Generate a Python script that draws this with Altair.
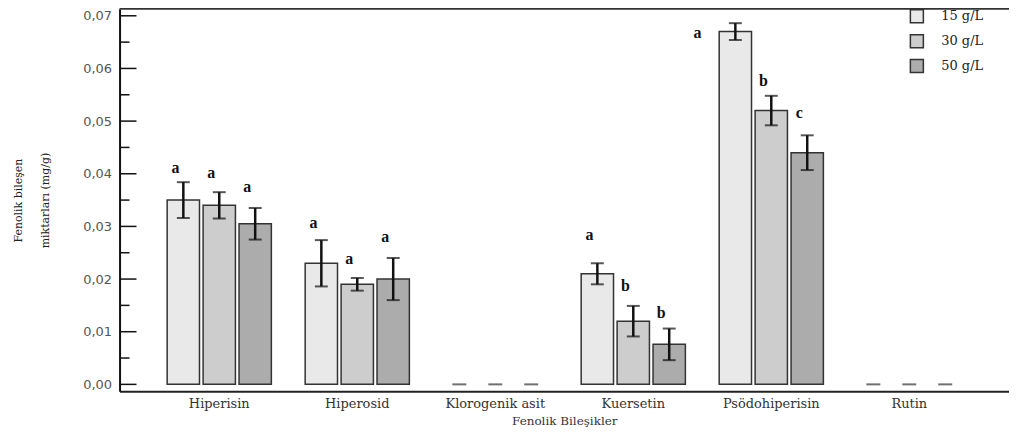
import altair as alt
import pandas as pd

compounds = ["Hiperisin", "Hiperosid", "Klorogenik asit", "Kuersetin", "Psödohiperisin", "Rutin"]
doses = ["15 g/L", "30 g/L", "50 g/L"]

mean15 = [0.035, 0.023, 0.0, 0.021, 0.067, 0.0]
mean30 = [0.034, 0.019, 0.0, 0.012, 0.052, 0.0]
mean50 = [0.0305, 0.020, 0.0, 0.0076, 0.044, 0.0]

err15 = [0.0034, 0.0044, 0.0, 0.0020, 0.0016, 0.0]
err30 = [0.0025, 0.0012, 0.0, 0.0029, 0.0028, 0.0]
err50 = [0.0030, 0.0040, 0.0, 0.0030, 0.0033, 0.0]

letters15 = ["a", "a", "", "a", "a", ""]
letters30 = ["a", "a", "", "b", "b", ""]
letters50 = ["a", "a", "", "b", "c", ""]

lety15 = [0.0411, 0.0306, 0.0, 0.0284, 0.0668, 0.0]
lety30 = [0.0401, 0.0238, 0.0, 0.0187, 0.0577, 0.0]
lety50 = [0.0375, 0.0280, 0.0, 0.0136, 0.0515, 0.0]

letpos15 = ["above", "above", "", "above", "left", ""]
letpos30 = ["above", "above", "", "above", "above", ""]
letpos50 = ["above", "above", "", "above", "above", ""]

major_ticks = [0.0, 0.01, 0.02, 0.03, 0.04, 0.05, 0.06, 0.07]
minor_ticks = [0.005, 0.015, 0.025, 0.035, 0.045, 0.055, 0.065]

colors = ["#e9e9e9", "#cdcdcd", "#acacac"]
ytitle = ["Fenolik bileşen", "miktarları (mg/g)"]

rows = []
for i, c in enumerate(compounds):
    for d, m, e, l, ly, lp in zip(
        doses,
        [mean15[i], mean30[i], mean50[i]],
        [err15[i], err30[i], err50[i]],
        [letters15[i], letters30[i], letters50[i]],
        [lety15[i], lety30[i], lety50[i]],
        [letpos15[i], letpos30[i], letpos50[i]],
    ):
        rows.append(dict(compound=c, dose=d, value=m, lo=m - e, hi=m + e,
                         letter=l, ly=ly, lpos=lp))
df = pd.DataFrame(rows)

W, H = 893, 384

xenc = alt.X("compound:N", sort=compounds,
             scale=alt.Scale(paddingInner=0.245, paddingOuter=0.345),
             axis=alt.Axis(title="Fenolik Bileşikler", labelAngle=0, ticks=False,
                           domainColor="#222", domainWidth=2,
                           labelFont="DejaVu Serif", labelFontSize=13, labelColor="#333",
                           labelPadding=6, titleFont="DejaVu Serif", titleFontSize=12,
                           titleFontWeight="normal", titleColor="#333", titlePadding=5))
xoff = alt.XOffset("dose:N", sort=doses, scale=alt.Scale(paddingInner=0.1, paddingOuter=0))
yscale = alt.Scale(domain=[-0.00132, 0.07132], nice=False, zero=False)
yaxis = alt.Axis(values=major_ticks, ticks=False, grid=False,
                 domainColor="#111", domainWidth=2,
                 labelExpr="replace(format(datum.value, '.2f'), '.', ',')",
                 labelFont="DejaVu Sans", labelFontSize=13, labelColor="#555",
                 labelPadding=8, titleFont="DejaVu Serif", titleFontSize=11,
                 titleFontWeight="normal", titleColor="#222",
                 titleLineHeight=28, titlePadding=32)


def Y(field):
    return alt.Y(field, scale=yscale, title=ytitle, axis=yaxis)


base = alt.Chart(df)

bars = base.transform_filter("datum.value > 0").mark_bar(
    stroke="#333", strokeWidth=1.5
).encode(
    x=xenc, xOffset=xoff, y=Y("value:Q"),
    fill=alt.Fill("dose:N", sort=doses, scale=alt.Scale(domain=doses, range=colors),
                  legend=alt.Legend(orient="none", legendX=793, legendY=0, title=None,
                                    symbolType="square", symbolSize=170,
                                    symbolStrokeColor="#333", symbolStrokeWidth=1.5,
                                    labelFont="DejaVu Serif", labelFontSize=13,
                                    labelColor="#222", rowPadding=4, labelOffset=17)),
)

zeros = base.transform_filter("datum.value == 0").mark_tick(
    color="#333", size=14, thickness=2, orient="horizontal"
).encode(x=xenc, xOffset=xoff, y=Y("value:Q"))

err = base.transform_filter("datum.value > 0").mark_rule(
    color="#111", strokeWidth=2.5
).encode(x=xenc, xOffset=xoff, y=Y("lo:Q"), y2="hi:Q")

cap_hi = base.transform_filter("datum.value > 0").mark_tick(
    color="#111", size=13, thickness=2, orient="horizontal"
).encode(x=xenc, xOffset=xoff, y=Y("hi:Q"))

cap_lo = base.transform_filter("datum.value > 0").mark_tick(
    color="#111", size=13, thickness=2, orient="horizontal"
).encode(x=xenc, xOffset=xoff, y=Y("lo:Q"))

let_above = base.transform_filter("datum.lpos == 'above'").mark_text(
    font="Liberation Serif", fontWeight="bold", fontSize=16, dx=-8, color="#111"
).encode(x=xenc, xOffset=xoff, y=Y("ly:Q"), text="letter:N")

let_left = base.transform_filter("datum.lpos == 'left'").mark_text(
    font="Liberation Serif", fontWeight="bold", fontSize=16, dx=-38, color="#111"
).encode(x=xenc, xOffset=xoff, y=Y("ly:Q"), text="letter:N")

major = alt.Chart(pd.DataFrame({"t": major_ticks})).mark_rule(
    color="#111", strokeWidth=1.5
).encode(y=Y("t:Q"), x=alt.value(0), x2=alt.value(17))

minor = alt.Chart(pd.DataFrame({"t": minor_ticks})).mark_rule(
    color="#111", strokeWidth=1.5
).encode(y=Y("t:Q"), x=alt.value(0), x2=alt.value(10))

top = alt.Chart(pd.DataFrame({"k": [0]})).mark_rule(
    color="#333", strokeWidth=2
).encode(y=alt.value(0), x=alt.value(0), x2=alt.value(W))

chart = alt.layer(bars, zeros, err, cap_hi, cap_lo, let_above, let_left, major, minor, top).properties(
    width=W, height=H,
    padding={"left": 112, "top": 0, "right": 0, "bottom": 40},
    autosize=alt.AutoSizeParams(type="none"),
).configure_view(stroke=None)

chart.save("out.html", embed_options={"renderer": "svg", "actions": False})
